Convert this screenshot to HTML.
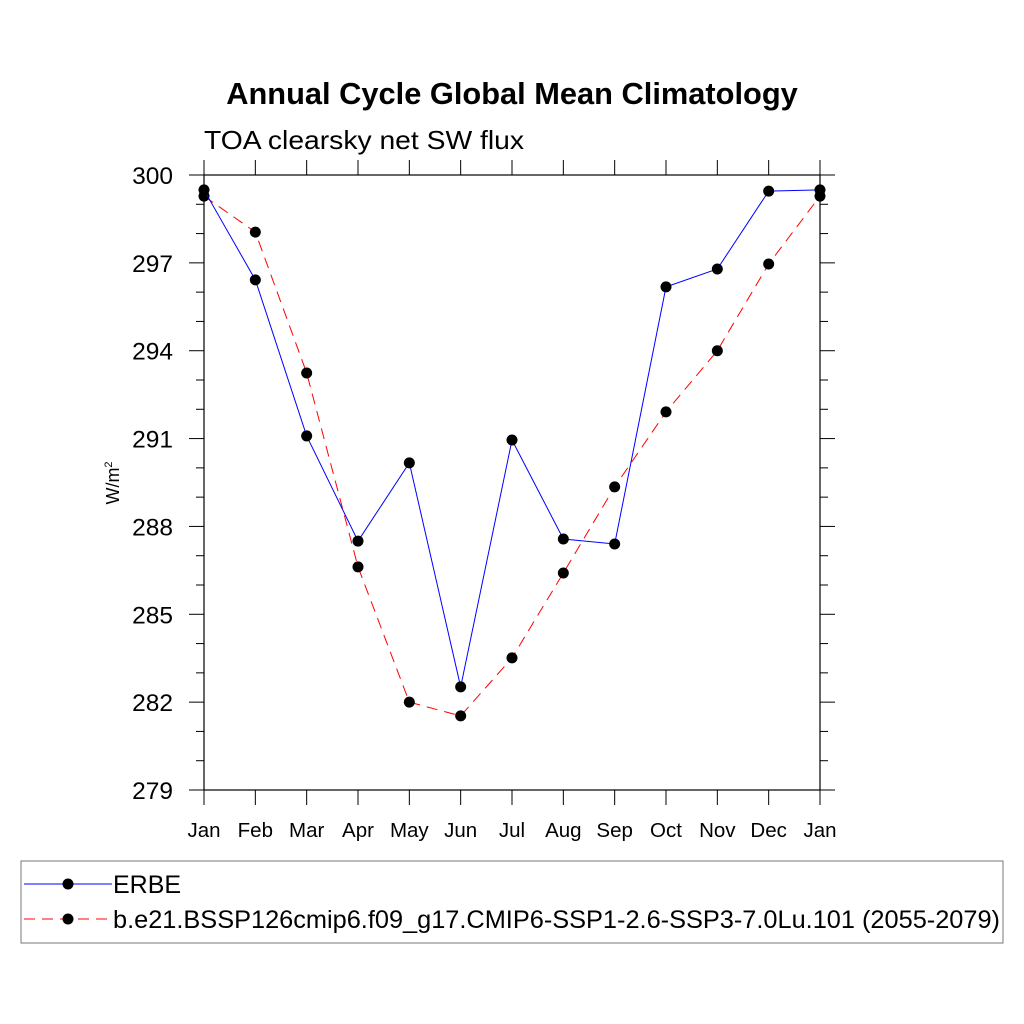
<!DOCTYPE html>
<html><head><meta charset="utf-8"><style>
body{margin:0;background:#fff}
svg{display:block;font-family:"Liberation Sans",sans-serif}
</style></head><body>
<svg id="c" width="1024" height="1024" viewBox="0 0 1024 1024">
<text x="512" y="104" text-anchor="middle" font-size="30.8" font-weight="bold">Annual Cycle Global Mean Climatology</text>
<text x="204" y="149" font-size="26" textLength="320" lengthAdjust="spacingAndGlyphs">TOA clearsky net SW flux</text>
<text transform="translate(119,483) rotate(-90)" text-anchor="middle" font-size="18">W/m<tspan dy="-7" font-size="11">2</tspan></text>
<g id="axes"></g><g id="series"></g>
<rect x="21" y="861" width="982" height="82" fill="none" stroke="#777" stroke-width="1"/>
<g>
<line x1="24" y1="884" x2="112" y2="884" stroke="#00f" stroke-width="1"/>
<circle cx="68" cy="884" r="5.5" fill="#000"/>
<text x="113" y="893" font-size="25">ERBE</text></g>
<g>
<line x1="24" y1="919" x2="112" y2="919" stroke="#f00" stroke-width="1" stroke-dasharray="11,7"/>
<circle cx="68" cy="919" r="5.5" fill="#000"/>
<text x="113" y="928" font-size="25" textLength="887" lengthAdjust="spacingAndGlyphs">b.e21.BSSP126cmip6.f09_g17.CMIP6-SSP1-2.6-SSP3-7.0Lu.101 (2055-2079)</text></g>
</svg>
<script>
const months=["Jan","Feb","Mar","Apr","May","Jun","Jul","Aug","Sep","Oct","Nov","Dec","Jan"];
const yTicks=[279,282,285,288,291,294,297,300];
const erbe=[299.49,296.42,291.09,287.5,290.17,282.52,290.95,287.57,287.4,296.18,296.79,299.45,299.49];
const model=[299.28,298.05,293.24,286.62,282.0,281.53,283.51,286.41,289.35,291.91,294.0,296.96,299.28];
const NS="http://www.w3.org/2000/svg";
const L=204,R=820,T=175,B=790,ymin=279,ymax=300;
const xs=i=>L+(R-L)*i/(months.length-1);
const ys=v=>B-(v-ymin)/(ymax-ymin)*(B-T);
function mk(tag,at,par){const e=document.createElementNS(NS,tag);for(const k in at)e.setAttribute(k,at[k]);par.appendChild(e);return e;}
const ax=document.getElementById('axes');
const frame=mk('rect',{x:L,y:T,width:R-L,height:B-T,fill:'none',stroke:'#000','stroke-width':1.2},ax);


for(let v=ymin;v<=ymax;v++){
  const major=yTicks.includes(v);const len=major?15:8;const y=ys(v);
  mk('line',{x1:L-len,y1:y,x2:L,y2:y,stroke:'#000'},ax);
  mk('line',{x1:R,y1:y,x2:R+len,y2:y,stroke:'#000'},ax);
}
yTicks.forEach(v=>{
  const t=mk('text',{x:173,y:ys(v)+9,'text-anchor':'end','font-size':24.5},ax);t.textContent=v;
  
  
});
months.forEach((m,i)=>{
  const x=xs(i);
  mk('line',{x1:x,y1:B,x2:x,y2:B+15,stroke:'#000'},ax);
  mk('line',{x1:x,y1:T-15,x2:x,y2:T,stroke:'#000'},ax);
  const t=mk('text',{x:x,y:837,'text-anchor':'middle','font-size':20.5},ax);t.textContent=m;
  
  
});
const sg=document.getElementById('series');
function draw(data,color,dash,name){
  const g=mk('g',{},sg);
  
  
  const at={points:data.map((v,i)=>xs(i)+','+ys(v)).join(' '),fill:'none',stroke:color,'stroke-width':1};
  if(dash)at['stroke-dasharray']=dash;
  mk('polyline',at,g);
  data.forEach((v,i)=>{const c=mk('circle',{cx:xs(i),cy:ys(v),r:5.5,fill:'#000'},g);
    
    });
}
draw(model,'#f00','11,7','model-series');
draw(erbe,'#00f',null,'erbe-series');
</script>
</body></html>
